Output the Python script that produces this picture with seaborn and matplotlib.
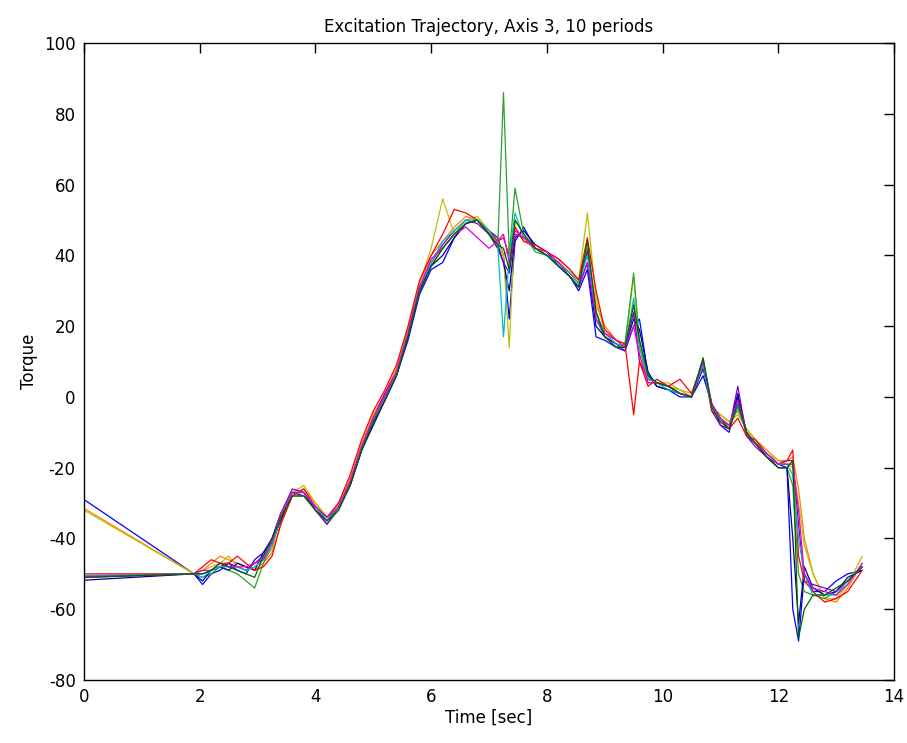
import matplotlib
matplotlib.use("Agg")
import matplotlib.pyplot as plt
import seaborn as sns
import pandas as pd

# time grid shared by all periods [sec]
time = [0, 1.9, 2.05, 2.2, 2.35, 2.5, 2.65, 2.8, 2.95, 3.1,
        3.25, 3.4, 3.6, 3.8, 4.0, 4.2, 4.4, 4.6, 4.8, 5.0,
        5.2, 5.4, 5.6, 5.8, 6.0, 6.2, 6.4, 6.6, 6.8, 7.0,
        7.15, 7.25, 7.35, 7.45, 7.6, 7.8, 8.0, 8.2, 8.4, 8.55,
        8.7, 8.85, 9.0, 9.2, 9.35, 9.5, 9.6, 9.75, 9.9, 10.1,
        10.3, 10.5, 10.7, 10.85, 11.0, 11.15, 11.3, 11.45, 11.6, 11.8,
        12.0, 12.15, 12.25, 12.35, 12.45, 12.6, 12.8, 13.0, 13.2, 13.45]

# torque per period
p1 = [-29, -50, -53, -50, -49, -47, -49, -50, -46, -44,
      -40, -33, -27, -28, -31, -35, -31, -25, -15, -7,
      -1, 6, 16, 29, 36, 38, 45, 49, 50, 47,
      45, 40, 22, 44, 48, 42, 40, 37, 34, 30,
      36, 17, 16, 14, 13, 20, 22, 6, 3, 2,
      0, 0, 6, -2, -8, -10, 0, -11, -13, -16,
      -19, -20, -60, -69, -50, -55, -55, -52, -50, -49]
p2 = [-31.5, -50, -49, -47, -45, -46, -47, -48, -49, -47,
      -44, -36, -28, -26, -30, -34, -30, -23, -13, -5,
      1, 8, 19, 32, 40, 44, 48, 51, 50, 46,
      44, 40, 42, 48, 44, 42, 41, 39, 36, 33,
      42, 26, 20, 16, 15, 24, 12, 4, 4, 3,
      2, 0, 9, -3, -5, -7, -4, -9, -12, -15,
      -18, -18, -17, -26, -40, -50, -57, -58, -54, -47]
p3 = [-32, -50, -49, -48, -47, -45, -48, -49, -48, -46,
      -43, -33, -27, -25, -30, -34, -31, -24, -14, -6,
      0, 7, 19, 32, 42, 56, 46, 50, 51, 47,
      44, 40, 14, 50, 46, 42, 40, 38, 35, 33,
      52, 28, 18, 16, 15, 34, 14, 5, 4, 4,
      2, 1, 10, -3, -5, -7, -5, -9, -12, -16,
      -18, -19, -20, -30, -42, -50, -57, -57, -53, -45]
p4 = [-50.5, -50, -51, -50, -48, -49, -50, -52, -54, -47,
      -42, -34, -28, -28, -32, -36, -32, -25, -15, -7,
      -1, 6, 17, 30, 37, 42, 46, 49, 50, 46,
      42, 86, 40, 59, 46, 41, 40, 37, 34, 31,
      42, 22, 17, 14, 15, 35, 16, 6, 4, 3,
      1, 0, 11, -2, -7, -9, -3, -10, -13, -17,
      -20, -20, -25, -50, -55, -56, -57, -55, -52, -48]
p5 = [-51.8, -50, -52, -49, -48, -49, -47, -48, -49, -44,
      -41, -35, -27, -27, -32, -35, -31, -25, -15, -8,
      -1, 6, 17, 30, 37, 40, 45, 49, 50, 46,
      43, 38, 30, 45, 47, 43, 41, 37, 34, 31,
      38, 20, 17, 15, 14, 22, 19, 7, 3, 2,
      1, 0, 8, -2, -6, -9, 1, -10, -13, -17,
      -20, -20, -40, -64, -48, -54, -56, -55, -51, -49]
p6 = [-51, -50, -50, -49, -48, -47, -48, -49, -47, -45,
      -40, -33, -26, -27, -32, -36, -31, -24, -14, -6,
      1, 7, 18, 31, 38, 43, 47, 50, 49, 46,
      42, 38, 35, 46, 45, 42, 40, 38, 35, 32,
      41, 24, 17, 15, 13, 24, 10, 5, 4, 3,
      1, 0, 9, -4, -8, -9, 3, -11, -14, -17,
      -19, -18, -18, -36, -52, -53, -54, -55, -52, -48]
p7 = [-50, -50, -48, -46, -47, -47, -45, -47, -49, -48,
      -45, -36, -28, -26, -31, -34, -30, -22, -12, -4,
      2, 9, 20, 33, 40, 46, 53, 52, 50, 47,
      44, 45, 40, 48, 44, 43, 41, 39, 36, 33,
      45, 30, 19, 16, 15, -5, 10, 3, 5, 3,
      5, 1, 10, -4, -6, -9, -6, -11, -12, -16,
      -19, -18, -15, -45, -52, -55, -58, -57, -55, -49]
p8 = [-50.5, -50, -51, -49, -48, -48, -48, -49, -48, -46,
      -42, -34, -27, -27, -31, -35, -31, -24, -14, -6,
      0, 7, 18, 31, 38, 44, 47, 50, 50, 47,
      43, 17, 40, 52, 45, 42, 40, 38, 35, 32,
      40, 24, 18, 15, 14, 28, 14, 5, 4, 2,
      1, 0, 9, -3, -6, -8, -3, -10, -13, -16,
      -19, -19, -22, -40, -50, -56, -56, -56, -52, -48]
p9 = [-50.8, -50, -49, -49, -47, -48, -48, -48, -47, -46,
      -41, -33, -27, -27, -31, -34, -31, -24, -14, -6,
      0, 7, 18, 31, 39, 42, 46, 48, 45, 42,
      44, 46, 38, 47, 45, 42, 41, 38, 34, 31,
      38, 22, 18, 16, 14, 20, 12, 4, 4, 3,
      1, 0, 10, -2, -6, -8, -1, -10, -13, -16,
      -19, -19, -19, -32, -50, -54, -55, -56, -53, -47]
p10 = [-51, -50, -50, -49, -47, -48, -49, -50, -51, -45,
       -40, -34, -28, -28, -32, -35, -32, -25, -15, -7,
       -1, 6, 17, 30, 37, 42, 46, 49, 50, 46,
       43, 42, 36, 50, 46, 42, 40, 37, 34, 31,
       44, 24, 17, 14, 14, 26, 16, 6, 4, 3,
       1, 0, 11, -3, -7, -9, -2, -10, -13, -17,
       -20, -20, -18, -68, -60, -56, -56, -54, -52, -48]

periods = [p1, p2, p3, p4, p5, p6, p7, p8, p9, p10]
colors = ["#0000ff", "#ff8000", "#bfbf00", "#2ca02c", "#00008b",
          "#8000c0", "#ff0000", "#00bfbf", "#e000e0", "#006400"]

rows = []
for k, vals in enumerate(periods):
    for t, v in zip(time, vals):
        rows.append({"period": k + 1, "time": t, "torque": v})
df = pd.DataFrame(rows)

sns.set_style("white")
plt.rcParams["font.family"] = ["DejaVu Sans"]
plt.rcParams["axes.unicode_minus"] = False
plt.rcParams["text.color"] = "black"
plt.rcParams["axes.labelcolor"] = "black"

fig = plt.figure(figsize=(9.07, 7.43), dpi=100)
ax = fig.add_axes([0.0926, 0.0848, 0.8931, 0.8572])

sns.lineplot(data=df, x="time", y="torque", hue="period", palette=colors,
             estimator=None, sort=False, linewidth=0.9, legend=False, ax=ax)

ax.set_xlim(0, 14)
ax.set_ylim(-80, 100)
ax.set_xticks(range(0, 15, 2))
ax.set_yticks(range(-80, 101, 20))
ax.tick_params(direction="in", top=True, right=True, length=7, width=1,
               labelsize=12, colors="black", pad=6)
for s in ax.spines.values():
    s.set_color("black")
    s.set_linewidth(1)
ax.set_title("Excitation Trajectory, Axis 3, 10 periods", fontsize=12,
             pad=8, color="black")
ax.set_xlabel("Time [sec]", fontsize=12, labelpad=2, color="black")
ax.set_ylabel("Torque", fontsize=12, labelpad=4, color="black")

fig.savefig("out.png", dpi=100)
